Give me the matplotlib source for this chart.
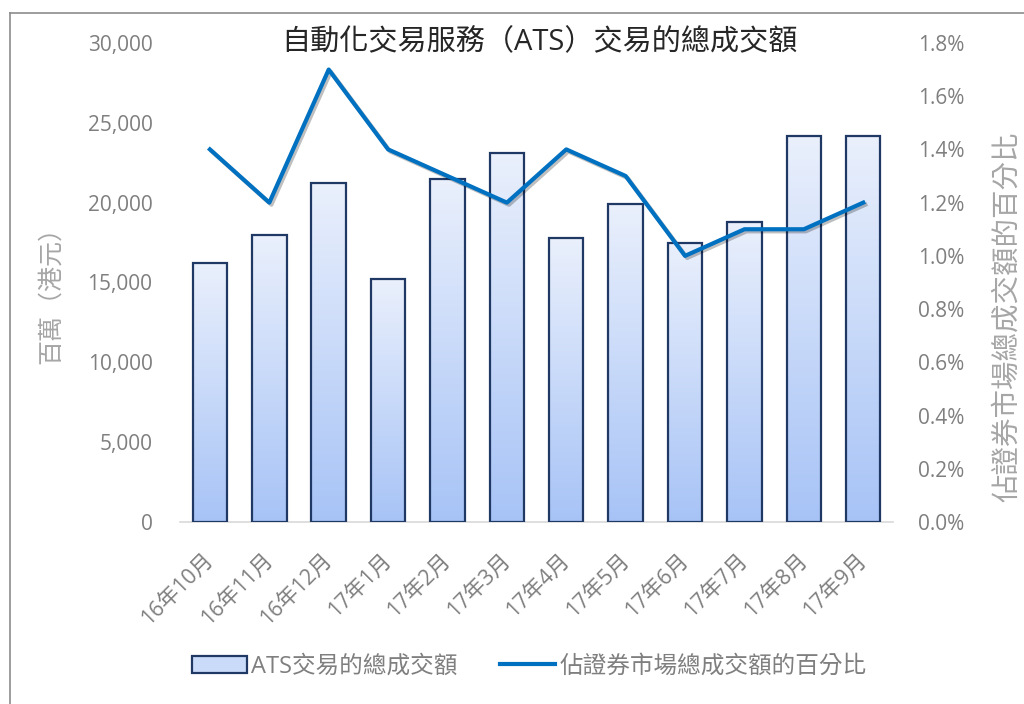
import numpy as np
import matplotlib
matplotlib.use('Agg')
import matplotlib.pyplot as plt
import matplotlib.patheffects as pe
from matplotlib.colors import LinearSegmentedColormap
from matplotlib.lines import Line2D
from matplotlib.patches import Patch
from matplotlib.ticker import FuncFormatter, MultipleLocator

plt.rcParams['font.family'] = ['Open Sans', 'Noto Sans CJK TC', 'DejaVu Sans']

months = ['16年10月', '16年11月', '16年12月', '17年1月', '17年2月', '17年3月',
          '17年4月', '17年5月', '17年6月', '17年7月', '17年8月', '17年9月']
turnover = [16200, 18000, 21200, 15200, 21500, 23100,
            17800, 19900, 17500, 18800, 24200, 24200]
share_pct = [1.4, 1.2, 1.7, 1.4, 1.3, 1.2, 1.4, 1.3, 1.0, 1.1, 1.1, 1.2]

tick_grey = '#7f7f7f'
label_grey = '#a6a6a6'
edge_col = '#1f3864'
line_col = '#0070c0'

fig = plt.figure(figsize=(10.24, 7.04), dpi=100)
ax = fig.add_axes([0.176, 0.2585, 0.696, 0.6805])
x = np.arange(len(months))

bars = ax.bar(x, turnover, width=0.58, facecolor='none', edgecolor=edge_col,
              linewidth=1.6, zorder=3)
cmap = LinearSegmentedColormap.from_list('g', ['#a7c3f6', '#eaf0fc'])
grad = np.linspace(0, 1, 256).reshape(-1, 1)
for b in bars:
    bx, by = b.get_x(), b.get_y()
    bw, bh = b.get_width(), b.get_height()
    im = ax.imshow(grad, cmap=cmap, origin='lower', aspect='auto',
                   extent=[bx, bx + bw, by, by + bh], zorder=2)
    im.set_clip_path(b)

ax.set_xlim(-0.5, len(months) - 0.5)
ax.set_ylim(0, 30000)
ax.yaxis.set_major_locator(MultipleLocator(5000))
ax.yaxis.set_major_formatter(FuncFormatter(lambda v, p: f'{int(v):,}'))
ax.set_xticks(x)
ax.set_xticklabels(months, rotation=45, ha='right', rotation_mode='anchor',
                   va='center', fontsize=15.5, color=tick_grey)
for s in ['top', 'right', 'left']:
    ax.spines[s].set_visible(False)
ax.spines['bottom'].set_color('#d9d9d9')
ax.spines['bottom'].set_linewidth(1.2)
ax.tick_params(axis='y', length=0, labelsize=15, labelcolor=tick_grey, pad=20)
ax.tick_params(axis='x', length=0, pad=25)

ax2 = ax.twinx()
ax2.plot(x, share_pct, color=line_col, linewidth=3, zorder=4,
         path_effects=[pe.SimpleLineShadow(offset=(1.5, -1.5), alpha=0.25), pe.Normal()])
ax2.set_ylim(0, 1.8)
ax2.yaxis.set_major_locator(MultipleLocator(0.2))
ax2.yaxis.set_major_formatter(FuncFormatter(lambda v, p: f'{v:.1f}%'))
for s in ax2.spines.values():
    s.set_visible(False)
ax2.tick_params(axis='y', length=0, labelsize=15, labelcolor=tick_grey, pad=18)

fig.text(0.05, 0.59, '百萬（港元）', rotation=90, ha='center', va='center',
         fontsize=18, color=label_grey, fontweight='light')
fig.text(0.984, 0.55, '佔證券市場總成交額的百分比', rotation=90, ha='center', va='center',
         fontsize=20.5, color=label_grey, fontweight='light')
fig.text(0.527, 0.939, '自動化交易服務（ATS）交易的總成交額', ha='center', va='center',
         fontsize=21, color='#262626')

handles = [Patch(facecolor='#c9dbf9', edgecolor=edge_col, linewidth=1.6),
           Line2D([0], [0], color=line_col, linewidth=3)]
fig.legend(handles, ['ATS交易的總成交額', '佔證券市場總成交額的百分比'],
           loc='center', bbox_to_anchor=(0.517, 0.053), ncol=2, frameon=False,
           fontsize=17, labelcolor=tick_grey, handlelength=2.3, handletextpad=0.2,
           columnspacing=1.8)

# outer chart border
fig.add_artist(Line2D([0.0098, 0.0098], [0, 0.9815], color='#8c8c8c', linewidth=1.2,
                      transform=fig.transFigure))
fig.add_artist(Line2D([0.0098, 1.0], [0.9815, 0.9815], color='#8c8c8c', linewidth=1.2,
                      transform=fig.transFigure))

fig.savefig('out.png', dpi=100)
